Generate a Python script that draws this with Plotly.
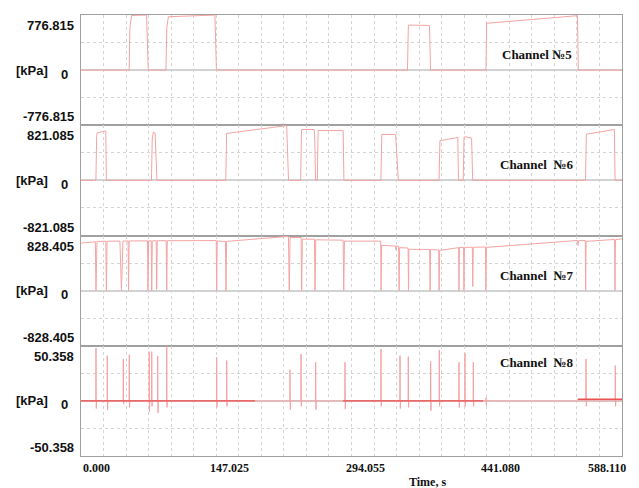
import plotly.graph_objects as go
from plotly.subplots import make_subplots

# ---------------- data ----------------
T_MAX = 588.110
x_tick_vals = [0.000, 147.025, 294.055, 441.080, 588.110]
x_tick_text = ["0.000", "147.025", "294.055", "441.080", "588.110"]

channel_names = ["Channel \u21165", "Channel\u00a0 \u21166", "Channel\u00a0 \u21167", "Channel\u00a0 \u21168"]
channel_max = [776.815, 821.085, 828.405, 50.358]
unit_label = "[kPa]"

# Channel 5 (time s, pressure kPa)
ch5_t = [0, 52.3, 53.2, 55.0, 71.3, 73.1, 92.3, 93.3, 95.0, 145.6, 147.2,
         354.9, 355.9, 378.8, 380.0, 440.2, 441.0, 539.7, 540.6, 588.11]
ch5_v = [0, 0, 600, 770, 776, 0, 0, 600, 752, 776, 0,
         0, 635, 630, 0, 0, 660, 767, 0, 0]

# Channel 6
ch6_t = [0, 16.2, 17.0, 17.6, 26.9, 27.6,
         76.6, 77.4, 78.6, 80.6, 82.6,
         157.4, 158.3, 223.6, 225.6,
         238.8, 239.7, 253.5, 254.0, 255.0,
         256.9, 257.8, 285.0, 285.8,
         326.0, 327.0, 342.0, 345.0,
         389.2, 390.2, 409.6, 410.3,
         415.5, 416.4, 417.6, 424.6, 425.8,
         548.4, 549.4, 579.8, 580.6,
         588.11]
ch6_v = [0, 0, 650, 707, 737, 0,
         0, 600, 722, 700, 0,
         0, 700, 816, 0,
         0, 757, 757, 680, 0,
         0, 742, 742, 0,
         0, 684, 684, 0,
         0, 590, 640, 0,
         0, 643, 650, 630, 0,
         0, 688, 758, 0,
         0]

# Channel 7
ch7_t = [0, 15.6, 16.3, 17.4,
         27.0, 27.6, 28.3,
         42.3, 44.0, 45.6,
         51.2, 51.7, 52.3,
         72.3, 72.8, 73.5,
         76.3, 76.9, 77.5,
         81.8, 82.3, 82.9,
         92.6, 93.2, 93.8,
         147.0, 147.5, 148.1,
         157.0, 157.6, 158.3,
         223.8, 225.5, 226.4, 227.3,
         239.3, 239.9, 240.6,
         253.8, 254.4, 255.2,
         285.0, 285.6, 286.4,
         325.8, 326.2, 326.8,
         342.0, 342.4, 342.9, 345.3, 345.8, 346.4,
         355.6, 356.0, 356.5,
         379.0, 379.5, 380.0,
         388.8, 389.3, 389.9,
         410.5, 410.9, 411.4,
         415.9, 416.3, 416.8,
         425.4, 425.9, 426.4,
         439.7, 440.1, 440.7,
         539.9, 540.3, 540.8,
         548.2, 548.6, 549.1,
         580.1, 580.5, 581.0,
         588.11]
ch7_v = [714, 735, 0, 740,
         742, 0, 742,
         745, 0, 745,
         746, 0, 746,
         748, 0, 748,
         748, 0, 748,
         750, 20, 750,
         750, 0, 750,
         752, 0, 745,
         740, 0, 740,
         820, 815, 0, 798,
         798, 0, 773,
         773, 0, 764,
         758, 0, 744,
         744, 0, 680,
         670, 610, 668, 665, 0, 646,
         640, 0, 621,
         618, 0, 616,
         612, 0, 605,
         646, 0, 648,
         648, 0, 650,
         652, 60, 652,
         655, 0, 650,
         754, 680, 750,
         752, 0, 740,
         769, 0, 764,
         779]

# Channel 8 spikes
ch8_spike_t = [16.3, 28.6, 46.0, 52.5, 74.2, 76.9, 83.4, 93.2, 147.5, 158.4,
               227.2, 239.2, 255.1, 287.0, 326.1, 346.8, 355.8, 380.1, 389.5,
               410.9, 417.4, 426.5, 440.3, 549.0, 580.8]
ch8_spike_peak = [48.3, 41.3, 38.3, 42.2, 45.0, 45.0, 41.0, 49.7, 39.8, 36.8,
                  28.4, 42.8, 35.3, 35.3, 47.4, 41.3, 40.4, 36.2, 46.5,
                  35.3, 43.4, 35.3, 3.0, 38.3, 32.3]
ch8_spike_dip = [-7, -8.4, -3, -6, -10, -5, -11, -6, -6, -5,
                 -8, -5, -8, -7.5, -5, -7, -6, -9, -5,
                 -6, -5, -5, -4, -5, -5]
# dense-noise baseline segments of channel 8 (start, end, level)
ch8_base_start = [0.0, 285.0, 540.0]
ch8_base_end = [189.0, 437.0, 588.11]
ch8_base_level = [0.0, 0.0, 1.5]

# ---------------- styles ----------------
LINE = "#f5a3a3"
BASE = "#ee5050"
GRID = "#d4d4d4"
ZERO = "#d2d2d2"
BORDER = "#a0a0a0"
SANS = "Liberation Sans, Arial, sans-serif"
SERIF = "Liberation Serif, Times New Roman, serif"

# build channel 8 polyline from spike data
ch8_t = [0.0]
ch8_v = [0.0]
for t, p, d in zip(ch8_spike_t, ch8_spike_peak, ch8_spike_dip):
    ch8_t += [t - 0.25, t, t + 0.3, t + 0.6]
    ch8_v += [0.0, p, d, 0.0]
ch8_t.append(T_MAX)
ch8_v.append(0.0)

base_t, base_v = [], []
for s, e, lv in zip(ch8_base_start, ch8_base_end, ch8_base_level):
    base_t += [s, e, None]
    base_v += [lv, lv, None]

series = [(ch5_t, ch5_v), (ch6_t, ch6_v), (ch7_t, ch7_v), (ch8_t, ch8_v)]

fig = make_subplots(rows=4, cols=1, shared_xaxes=True, vertical_spacing=0)

for i, (t, v) in enumerate(series):
    fig.add_trace(go.Scatter(x=t, y=v, mode="lines",
                             line=dict(color=LINE, width=1), hoverinfo="skip"),
                  row=i + 1, col=1)
    if i == 3:
        fig.add_trace(go.Scatter(x=base_t, y=base_v, mode="lines",
                                 line=dict(color=BASE, width=1.3), hoverinfo="skip"),
                      row=4, col=1)

annotations = []
for i, m in enumerate(channel_max):
    r = i + 1
    fig.update_yaxes(range=[-m, m], tick0=0, dtick=m / 2, showticklabels=False,
                     showgrid=True, gridcolor=GRID, griddash="3px,3px", gridwidth=1,
                     zeroline=True, zerolinecolor=ZERO, zerolinewidth=1.5,
                     showline=True, mirror=True, linecolor=BORDER, linewidth=1,
                     ticks="", row=r, col=1)
    fig.update_xaxes(range=[0, T_MAX], tick0=0, dtick=T_MAX / 24, showticklabels=False,
                     showgrid=True, gridcolor=GRID, griddash="3px,3px", gridwidth=1,
                     zeroline=False, showline=True, mirror=True,
                     linecolor=BORDER, linewidth=1, ticks="", row=r, col=1)
    yref = "y" if r == 1 else f"y{r}"
    xdom = "x domain" if r == 1 else f"x{r} domain"
    ydom = "y domain" if r == 1 else f"y{r} domain"
    lab = f"{m:.3f}"
    font_y = dict(family=SANS, size=13, color="#111111")
    annotations += [
        dict(text=f"<b>{lab}</b>", xref="paper", yref=yref, x=0, y=m,
             xanchor="right", yanchor="top", xshift=-5, yshift=-1,
             showarrow=False, font=font_y),
        dict(text=f"<b>-{lab}</b>", xref="paper", yref=yref, x=0, y=-m,
             xanchor="right", yanchor="bottom", xshift=-5, yshift=-1,
             showarrow=False, font=font_y),
        dict(text="<b>0</b>", xref="paper", yref=yref, x=0, y=0,
             xanchor="right", yanchor="middle", xshift=-11, yshift=-4,
             showarrow=False, font=font_y),
        dict(text=f"<b>{unit_label}</b>", xref="paper", yref=yref, x=-0.0906, y=0,
             xanchor="center", yanchor="middle", yshift=0,
             showarrow=False, font=font_y),
        dict(text=f"<b>{channel_names[i]}</b>", xref=xdom, yref=ydom,
             x=0.843, y=[0.639, 0.645, 0.64, 0.85][i],
             xanchor="center", yanchor="middle", showarrow=False,
             font=dict(family=SERIF, size=13, color="#111111")),
    ]

font_x = dict(family=SERIF, size=12, color="#111111")
for k, (tv, tt) in enumerate(zip(x_tick_vals, x_tick_text)):
    if k == 0:
        anchor, shift = "left", 0
    elif k == len(x_tick_vals) - 1:
        anchor, shift = "right", 6
    else:
        anchor, shift = "left", -8
    annotations.append(dict(text=f"<b>{tt}</b>", xref="x4", yref="paper", x=tv, y=0,
                            xanchor=anchor, yanchor="top", xshift=shift, yshift=-3,
                            showarrow=False, font=font_x))
annotations.append(dict(text="<b>Time, s</b>", xref="paper", yref="paper",
                        x=0.6414, y=0, xanchor="center", yanchor="top", yshift=-17,
                        showarrow=False, font=font_x))

# the page body adds an 8px offset; margins compensate so the plot area
# sits at x 81..622, y 15..456 of the window
fig.update_layout(width=639, height=488, margin=dict(l=73, r=25, t=7, b=40),
                  paper_bgcolor="white", plot_bgcolor="white", showlegend=False,
                  annotations=annotations)

fig.write_html("out.html")
